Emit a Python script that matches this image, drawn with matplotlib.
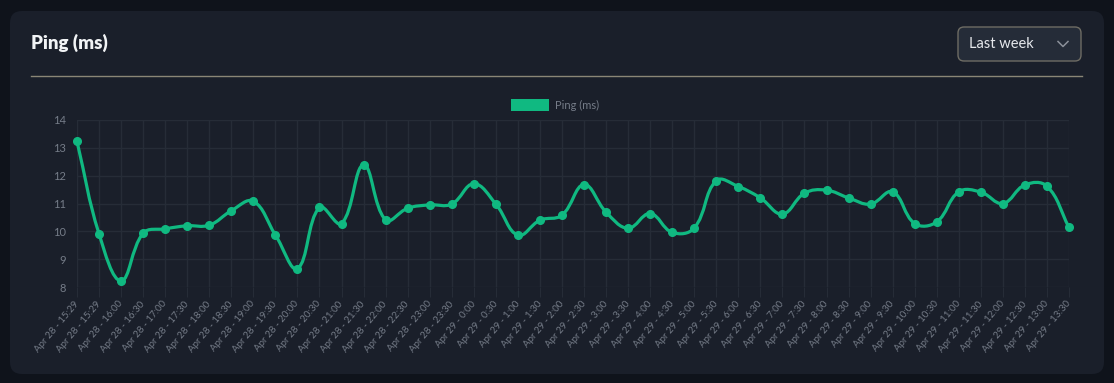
import numpy as np
import matplotlib.pyplot as plt
from matplotlib.patches import FancyBboxPatch, PathPatch, Rectangle
from matplotlib.path import Path
from matplotlib.transforms import IdentityTransform
from matplotlib.lines import Line2D

# --- data ---
labels = ["Apr 28 - 15:29", "Apr 28 - 15:29"]
labels += ["Apr 28 - %d:%s" % (h, m) for h in range(16, 24) for m in ("00", "30")]
labels += ["Apr 29 - %d:%s" % (h, m) for h in range(0, 14) for m in ("00", "30")]

ping = [13.23, 9.91, 8.22, 9.93, 10.09, 10.20, 10.22, 10.74, 11.08, 9.87,
        8.66, 10.86, 10.28, 12.39, 10.41, 10.83, 10.95, 10.98, 11.71, 10.98,
        9.86, 10.40, 10.58, 11.68, 10.69, 10.11, 10.64, 9.96, 10.12, 11.82,
        11.61, 11.20, 10.62, 11.37, 11.48, 11.20, 10.98, 11.42, 10.28, 10.34,
        11.42, 11.41, 11.00, 11.67, 11.62, 10.14]

y_ticks = [8, 9, 10, 11, 12, 13, 14]

W, H = 1114, 383
GREEN = "#10b981"
GRID = "#262c37"
TXT = "#757c88"

plt.rcParams['font.family'] = ['Lato', 'DejaVu Sans']

fig = plt.figure(figsize=(W / 100, H / 100), dpi=100)
fig.patch.set_facecolor("#0f131b")
ident = IdentityTransform()

# card background (pixel coords)
card = FancyBboxPatch((10, H - 374), 1094, 363, boxstyle="round,pad=0,rounding_size=12",
                      transform=ident, fc="#1a1f2a", ec="none", zorder=0)
fig.add_artist(card)

fig.text(31 / W, 1 - 43 / H, "Ping (ms)", fontsize=13.5, weight="heavy",
         color="#f1f3f5", va="center", ha="left")
fig.add_artist(Line2D([31, 1082], [H - 76, H - 76], transform=ident, color="#8a8676", lw=1))

# dropdown
dd = FancyBboxPatch((958, H - 61), 123, 34, boxstyle="round,pad=0,rounding_size=6",
                    transform=ident, fc="#252c38", ec="#6e6c64", lw=1)
fig.add_artist(dd)
fig.text(969 / W, 1 - 44 / H, "Last week", fontsize=10.5, color="#e6e8ec", va="center", ha="left")
fig.add_artist(Line2D([1058, 1063, 1068], [H - 41.5, H - 46.5, H - 41.5], transform=ident,
                      color="#8b909a", lw=1.1))

# legend
fig.add_artist(Rectangle((511, H - 111), 38, 12, transform=ident, fc=GREEN, ec="none"))
fig.text(555 / W, 1 - 105 / H, "Ping (ms)", fontsize=8, color=TXT, va="center", ha="left")

# axes
ax = fig.add_axes([77 / W, 1 - 287 / H, (1069 - 77) / W, (287 - 120) / H])
ax.set_facecolor("none")
x = np.arange(len(ping))
ax.set_xlim(0, len(ping) - 1)
ax.set_ylim(8, 14)
ax.set_xticks(x)
ax.set_xticklabels(labels, rotation=50, ha="right", va="center", rotation_mode="anchor",
                   fontsize=7, color=TXT)
ax.set_yticks(y_ticks)
ax.set_yticklabels([str(v) for v in y_ticks], fontsize=8, color=TXT)
ax.grid(True, color=GRID, lw=1)
ax.set_axisbelow(True)
for s in ax.spines.values():
    s.set_visible(False)
ax.tick_params(axis="x", length=7, color=GRID, pad=4)
ax.tick_params(axis="y", length=0, pad=8)

# smooth line like chart.js tension 0.4 (control points in pixel-ish space)
sx, sy = 22.04, 27.8
P = np.column_stack([x * sx, np.array(ping) * sy])
n = len(P)
t = 0.4
cps = []
for i in range(n):
    prev = P[max(i - 1, 0)]
    cur = P[i]
    nxt = P[min(i + 1, n - 1)]
    d01 = np.hypot(*(cur - prev))
    d12 = np.hypot(*(nxt - cur))
    s = d01 + d12
    fa = t * d01 / s if s else 0
    fb = t * d12 / s if s else 0
    cps.append((cur - fa * (nxt - prev), cur + fb * (nxt - prev)))
verts = [P[0]]
codes = [Path.MOVETO]
for i in range(n - 1):
    verts += [cps[i][1], cps[i + 1][0], P[i + 1]]
    codes += [Path.CURVE4] * 3
verts = np.array(verts) / [sx, sy]
ax.add_patch(PathPatch(Path(verts, codes), fc="none", ec=GREEN, lw=2.3, zorder=3,
                       clip_on=False, capstyle="round", joinstyle="round"))
ax.plot(x, ping, "o", color=GREEN, ms=5.5, zorder=4, clip_on=False)

fig.savefig("out.png", dpi=100, facecolor=fig.get_facecolor())
